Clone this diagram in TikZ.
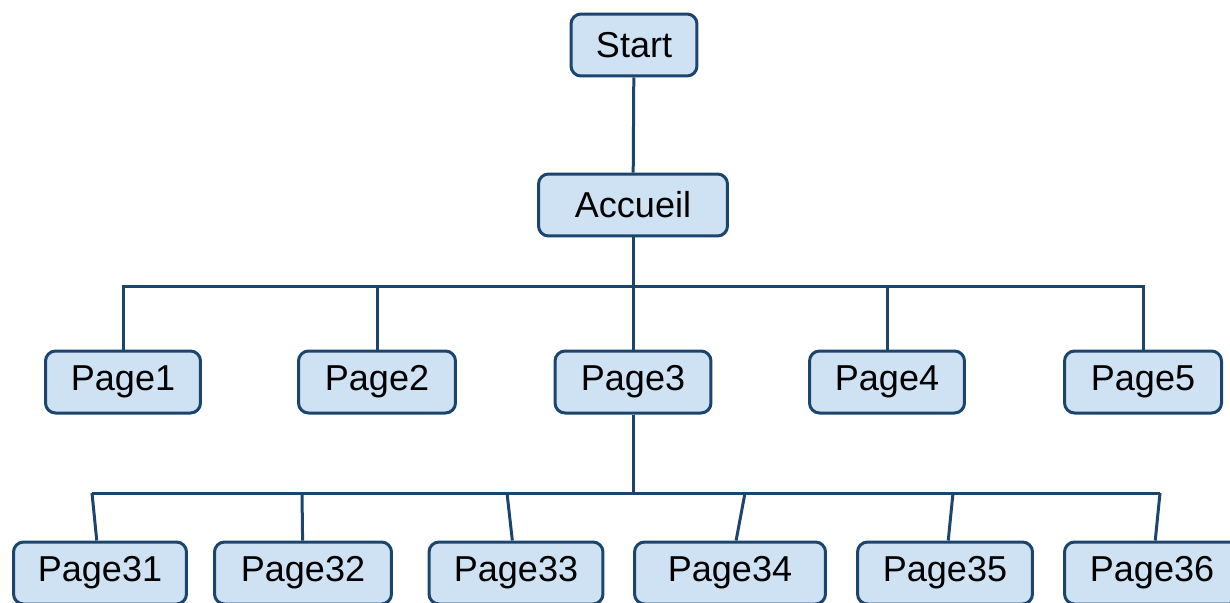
\documentclass[tikz,border=0pt]{standalone}
\usepackage{fontspec}
\setmainfont{Liberation Sans}
\usepackage{tikz}

\definecolor{boxfill}{RGB}{207,226,243}
\definecolor{boxline}{RGB}{28,69,110}

\begin{document}
\begin{tikzpicture}
  [x=0.02cm, y=-0.02cm,
   page/.style={draw=boxline, fill=boxfill, line width=0.06cm,
     rounded corners=0.2cm, minimum height=1.24cm, inner sep=0pt,
     font=\fontsize{20.5}{24}\selectfont},
   link/.style={draw=boxline, line width=0.06cm}]
  \clip (0,0) rectangle (1230,602);

  \node[page, minimum width=2.52cm] (start) at (634,45) {Start};
  \node[page, minimum width=3.78cm] (acc) at (633,205) {Accueil};

  \node[page, minimum width=3.1cm] (p1) at (123,382) {Page1};
  \node[page, minimum width=3.14cm] (p2) at (377,382) {Page2};
  \node[page, minimum width=3.12cm] (p3) at (633,382) {Page3};
  \node[page, minimum width=3.1cm] (p4) at (887,382) {Page4};
  \node[page, minimum width=3.14cm] (p5) at (1143,382) {Page5};

  \node[page, minimum width=3.46cm] (p31) at (100,573) {Page31};
  \node[page, minimum width=3.54cm] (p32) at (303,573) {Page32};
  \node[page, minimum width=3.48cm] (p33) at (516,573) {Page33};
  \node[page, minimum width=3.82cm] (p34) at (730,573) {Page34};
  \node[page, minimum width=3.5cm] (p35) at (945,573) {Page35};
  \node[page, minimum width=3.5cm] (p36) at (1152,573) {Page36};

  \coordinate (top) at (633,286);
  \coordinate (mid) at (633,493);
  \coordinate (c31) at (92,493);
  \coordinate (c32) at (302,493);
  \coordinate (c33) at (507,493);
  \coordinate (c34) at (745,493);
  \coordinate (c35) at (953,493);
  \coordinate (c36) at (1160,493);

  \draw[link] (start) -- (acc);
  \draw[link] (acc) -- (top) -- (p3);
  \foreach \to in {p1,p2,p4,p5}
  \draw[link] (top) -| (\to);

  \draw[link] (p3) -- (mid);
  \draw[link] (c31) -- (c36);
  \foreach \from/\to in {c31/p31,c32/p32,c33/p33,c34/p34,c35/p35,c36/p36}
  \draw[link] (\from) -- (\to);
\end{tikzpicture}
\end{document}
